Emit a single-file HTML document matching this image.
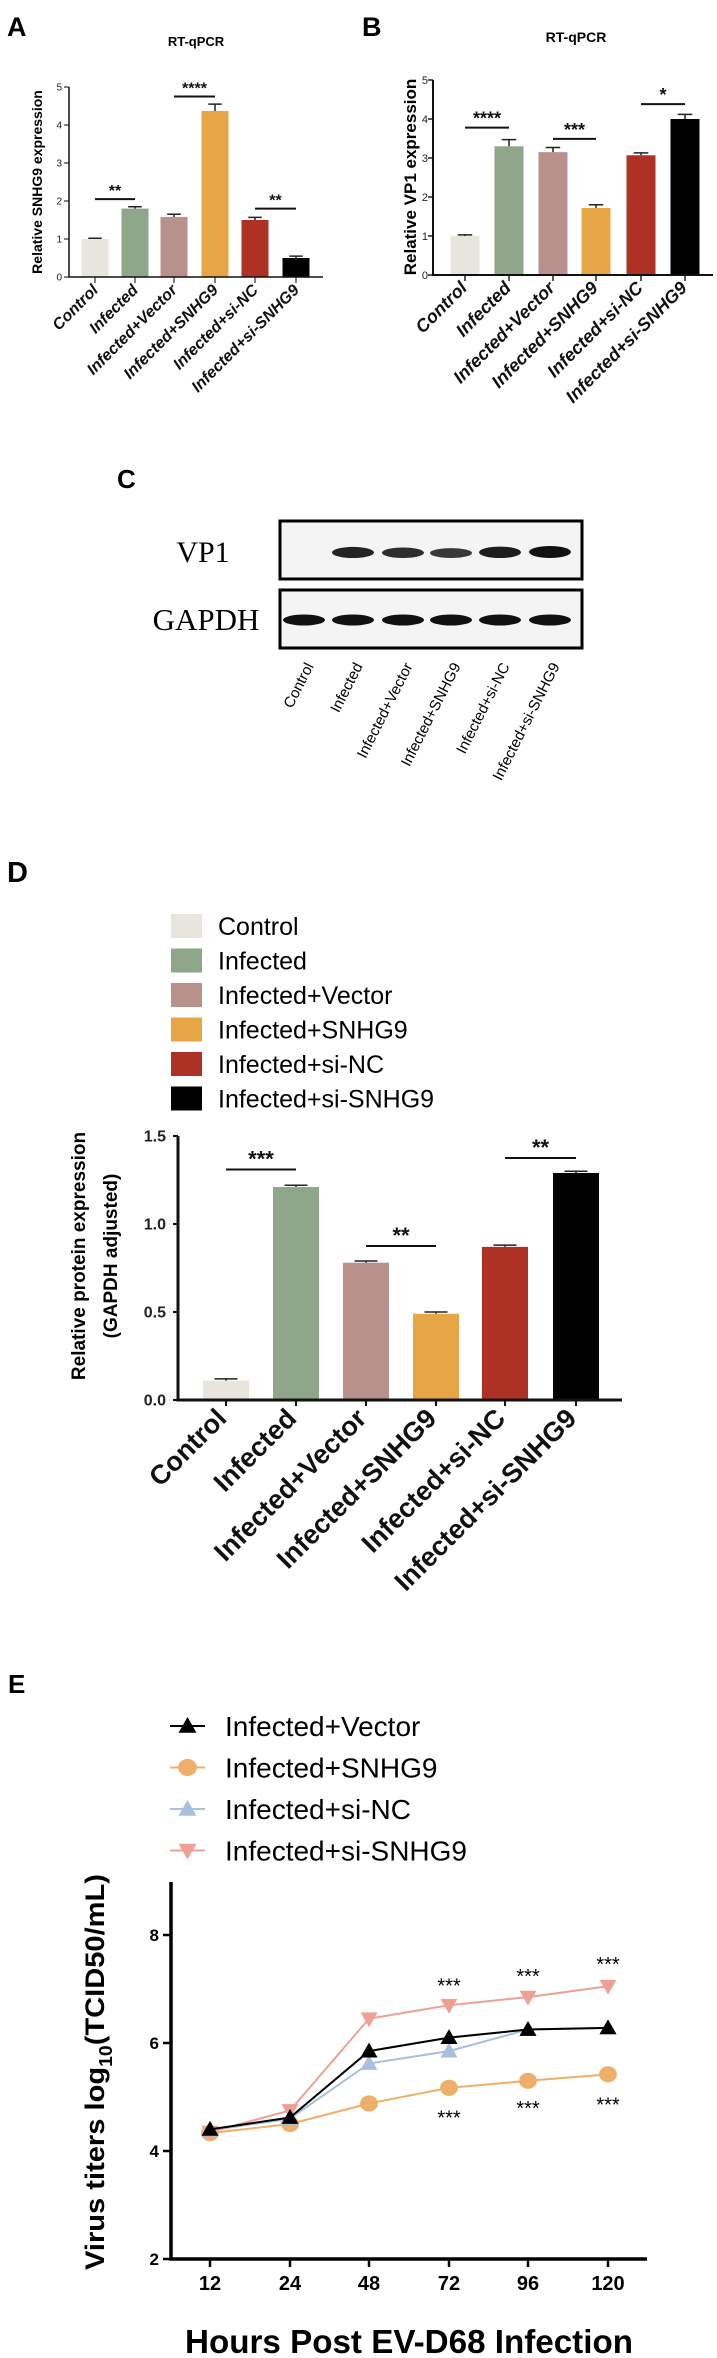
<!DOCTYPE html>
<html><head><meta charset="utf-8"><style>
html,body{margin:0;padding:0;background:#fff;}
svg{display:block;font-family:"Liberation Sans",Arial,sans-serif;}
</style></head><body>
<svg id="fig" width="717" height="2358" viewBox="0 0 717 2358" xmlns="http://www.w3.org/2000/svg">
<text x="7" y="36" font-size="27" font-weight="bold">A</text>
<text x="362" y="36" font-size="27" font-weight="bold">B</text>
<text x="117" y="488" font-size="26" font-weight="bold">C</text>
<text x="7" y="882" font-size="29" font-weight="bold">D</text>
<text x="8" y="1693" font-size="26" font-weight="bold">E</text>
<g id="gA"></g><g id="gB"></g><g id="gC"></g><g id="gD"></g><g id="gE"></g>
</svg>
<script>
const groups = ["Control","Infected","Infected+Vector","Infected+SNHG9","Infected+si-NC","Infected+si-SNHG9"];
const colors = ["#e8e5de","#8fa68a","#b8918c","#e6a646","#ad3124","#000000"];
const aValues = [1.0,1.8,1.58,4.37,1.5,0.5];
const aErr = [0.02,0.05,0.07,0.18,0.07,0.05];
const aTicks = [0,1,2,3,4,5];
const aSig = [[0,1,2.05,"**"],[2,3,4.75,"****"],[4,5,1.8,"**"]];
const bValues = [1.0,3.3,3.15,1.72,3.07,4.0];
const bErr = [0.03,0.17,0.12,0.08,0.06,0.12];
const bTicks = [0,1,2,3,4,5];
const bSig = [[0,1,3.78,"****"],[2,3,3.49,"***"],[4,5,4.38,"*"]];
const dValues = [0.11,1.21,0.78,0.49,0.87,1.29];
const dErr = [0.01,0.01,0.01,0.01,0.01,0.01];
const dTicks = [0,0.5,1.0,1.5];
const dTickLabels = ["0.0","0.5","1.0","1.5"];
const dSig = [[0,1,1.31,"***"],[2,3,0.875,"**"],[4,5,1.375,"**"]];
const eHours = ["12","24","48","72","96","120"];
const eSeriesNames = ["Infected+Vector","Infected+SNHG9","Infected+si-NC","Infected+si-SNHG9"];
const eVector = [4.4,4.62,5.85,6.1,6.25,6.28];
const eSNHG9 = [4.33,4.5,4.88,5.17,5.3,5.42];
const eSiNC = [4.38,4.6,5.62,5.85,6.25,6.28];
const eSiSNHG9 = [4.35,4.75,6.45,6.7,6.85,7.05];
const eTicks = [2,4,6,8];
const eSigTop = [[3,7.1],[4,7.28],[5,7.5]];
const eSigBottom = [[3,4.66],[4,4.83],[5,4.9]];
const lanes = [0,1,2,3,4,5];
const vp1Intensity = [0,0.85,0.75,0.65,0.9,1];

const NS="http://www.w3.org/2000/svg";
function mk(tag, attrs, parent, txt){const e=document.createElementNS(NS,tag);for(const k in attrs)e.setAttribute(k,attrs[k]);if(txt!==undefined)e.textContent=txt;parent.appendChild(e);return e;}

function barChart(g, cfg){
  const {x0,x1,yTop,yZero,vmax,ticks,tickLabels,xs,bw,vals,err,sig,tickFs,labFs,labItalic,labOff,sigFs,sigColor,axisW,tickLabX} = cfg;
  const ys = v => yZero - v/vmax*(yZero-yTop);
  vals.forEach((v,i)=>{
    const r=mk('rect',{x:xs[i]-bw/2,y:ys(v),width:bw,height:yZero-ys(v),fill:colors[i]},g);
    
    
    const e1=ys(v+err[i]);
    const l=mk('path',{d:`M${xs[i]} ${ys(v)}V${e1}M${xs[i]-bw/4} ${e1}H${xs[i]+bw/4}`,stroke:'#222','stroke-width':1.5,fill:'none'},g);
    
    
  });
  const ax=mk('path',{d:`M${x0} ${yTop}V${yZero}H${x1}`,stroke:'#111','stroke-width':axisW,fill:'none'},g);
  
  
  ticks.forEach((t,i)=>{
    mk('path',{d:`M${x0-5} ${ys(t)}H${x0}`,stroke:'#111','stroke-width':axisW*0.7},g);
    const tl=mk('text',{x:tickLabX,y:ys(t)+tickFs*0.35,'font-size':tickFs,'text-anchor':'end','font-weight':cfg.tickBold?'bold':'normal',fill:'#222'},g,tickLabels?tickLabels[i]:String(t));
    
    
  });
  xs.forEach((x,i)=>{
    mk('path',{d:`M${x} ${yZero}V${yZero+6}`,stroke:'#111','stroke-width':axisW*0.7},g);
    const lx=x+labOff[0], ly=yZero+labOff[1];
    const t=mk('text',{x:lx,y:ly,'font-size':labFs,'font-weight':'bold','font-style':labItalic?'italic':'normal','text-anchor':'end',transform:`rotate(-45 ${lx} ${ly})`,fill:'#111'},g,groups[i]);
    
    
  });
  sig.forEach(s=>{
    const y=ys(s[2]);
    const l=mk('path',{d:`M${xs[s[0]]} ${y}H${xs[s[1]]}`,stroke:'#111','stroke-width':2},g);
    
    
    const t=mk('text',{x:(xs[s[0]]+xs[s[1]])/2,y:y-3,'font-size':sigFs,'font-weight':'bold','text-anchor':'middle',fill:sigColor||'#111'},g,s[3]);
    
    
  });
}
// Panel A
const gA=document.getElementById('gA');
mk('text',{x:196,y:46,'font-size':13,'font-weight':'bold','text-anchor':'middle'},gA,'RT-qPCR');
barChart(gA,{x0:69,x1:323,yTop:87,yZero:277,vmax:5,ticks:aTicks,xs:[95,135,174,215,255,296],bw:27,vals:aValues,err:aErr,sig:aSig,tickFs:10,labFs:16,labItalic:true,labOff:[4,14],sigFs:16,axisW:1.5,tickLabX:62});
{const t=mk('text',{x:0,y:0,'font-size':14,'font-weight':'bold','text-anchor':'middle',transform:'translate(42 182) rotate(-90)'},gA,'Relative SNHG9 expression');}
// Panel B
const gB=document.getElementById('gB');
mk('text',{x:576,y:42,'font-size':14,'font-weight':'bold','text-anchor':'middle'},gB,'RT-qPCR');
barChart(gB,{x0:433,x1:713,yTop:80,yZero:275,vmax:5,ticks:bTicks,xs:[465,509,553,596,641,685],bw:29,vals:bValues,err:bErr,sig:bSig,tickFs:11,labFs:18,labItalic:true,labOff:[3,14],sigFs:18,axisW:2,tickLabX:428});
{const t=mk('text',{x:0,y:0,'font-size':17,'font-weight':'bold','text-anchor':'middle',transform:'translate(416 177) rotate(-90)'},gB,'Relative  VP1  expression');}
// Panel C
const gC=document.getElementById('gC');
const laneX=[304,353,403,451,500,550];
[[521,579,'VP1',552],[590,648,'GAPDH',620]].forEach((b,bi)=>{
  const r=mk('rect',{x:280,y:b[0],width:302,height:b[1]-b[0],fill:'#f4f4f4',stroke:'#000','stroke-width':3},gC);
  
  
  const t=mk('text',{x:bi==0?203:206,y:b[3]+10,'font-size':bi==0?30:31,'text-anchor':'middle','font-family':'"Liberation Serif",serif'},gC,b[2]);
  
  
  lanes.forEach(i=>{
    const inten = bi==0?vp1Intensity[i]:1;
    if(inten<=0)return;
    const e=mk('ellipse',{cx:laneX[i],cy:bi==0?555-inten*3:620,rx:21,ry:bi==0?3+inten*3:5.5,fill:'#111','fill-opacity':0.5+0.5*inten},gC);
    
    
  });
});
lanes.forEach(i=>{
  const lx=laneX[i]+10, ly=666;
  const t=mk('text',{x:lx,y:ly,'font-size':15,'text-anchor':'end',transform:`rotate(-63 ${lx} ${ly})`},gC,groups[i]);
  
  
});
// Panel D
const gD=document.getElementById('gD');
groups.forEach((gname,i)=>{
  const y=914+i*34.5;
  const r=mk('rect',{x:171,y:y,width:31,height:24,fill:colors[i]},gD);
  
  
  const t=mk('text',{x:218,y:y+21,'font-size':25},gD,gname);
  
  
});
barChart(gD,{x0:178,x1:622,yTop:1136,yZero:1400,vmax:1.5,ticks:dTicks,tickLabels:dTickLabels,tickBold:true,xs:[226,296,366,436,505,576],bw:46,vals:dValues,err:dErr,sig:dSig,tickFs:16,labFs:27,labItalic:false,labOff:[2,20],sigFs:22,axisW:3,tickLabX:166});
{const t=mk('text',{x:0,y:0,'font-size':19,'font-weight':'bold','text-anchor':'middle',transform:'translate(85 1256) rotate(-90)'},gD,'Relative protein expression');
const t2=mk('text',{x:0,y:0,'font-size':19,'font-weight':'bold','text-anchor':'middle',transform:'translate(117 1256) rotate(-90)'},gD,'(GAPDH adjusted)');}
// Panel E
const gE=document.getElementById('gE');
const eColors=['#000000','#eeaf6a','#a8c0dc','#eea096'];
const eMarkers=['up','circle','up','down'];
const eData=[eVector,eSNHG9,eSiNC,eSiSNHG9];
const ex0=171, ex1=647, eyBase=2259, eyPer=54;
const exPos=[210,290,369,449,528,608];
const eY=v=>eyBase-(v-2)*eyPer;
function marker(type,x,y,c,s){
  if(type=='circle')return mk('ellipse',{cx:x,cy:y,rx:s*1.05,ry:s*0.95,fill:c},gE);
  if(type=='up')return mk('path',{d:`M${x} ${y-s}L${x+s} ${y+s*0.75}H${x-s}Z`,fill:c},gE);
  return mk('path',{d:`M${x} ${y+s}L${x+s} ${y-s*0.75}H${x-s}Z`,fill:c},gE);
}
eSeriesNames.forEach((n,i)=>{
  const y=1726+i*41.5;
  const l=mk('path',{d:`M170 ${y}H205`,stroke:eColors[i],'stroke-width':2},gE);
  
  
  const m=marker(eMarkers[i],187.5,y,eColors[i],9);
  
  
  const t=mk('text',{x:225,y:y+10,'font-size':28},gE,n);
  
  
});
[1,2,3,0].forEach(si=>{
  const pts=eData[si].map((v,i)=>`${exPos[i]},${eY(v)}`).join(' ');
  const pl=mk('polyline',{points:pts,fill:'none',stroke:eColors[si],'stroke-width':2},gE);
  
  
  eData[si].forEach((v,i)=>{
    const m=marker(eMarkers[si],exPos[i],eY(v),eColors[si],8.5);
    
    
  });
});
{const ax=mk('path',{d:`M${ex0} 1882V${eyBase}H${ex1}`,stroke:'#000','stroke-width':3.5,fill:'none'},gE);}
eTicks.forEach(t=>{
  mk('path',{d:`M${ex0-8} ${eY(t)}H${ex0}`,stroke:'#000','stroke-width':2.5},gE);
  const tl=mk('text',{x:ex0-12,y:eY(t)+6,'font-size':17,'font-weight':'bold','text-anchor':'end'},gE,String(t));
  
  
});
eHours.forEach((h,i)=>{
  mk('path',{d:`M${exPos[i]} ${eyBase}V${eyBase+8}`,stroke:'#000','stroke-width':2.5},gE);
  const tl=mk('text',{x:exPos[i],y:2290,'font-size':20,'font-weight':'bold','text-anchor':'middle'},gE,h);
  
  
});
eSigTop.concat(eSigBottom).forEach(s=>{
  const t=mk('text',{x:exPos[s[0]],y:eY(s[1])+9,'font-size':20,'text-anchor':'middle'},gE,'***');
  
  
});
{const t=mk('text',{x:409,y:2353,'font-size':33,'font-weight':'bold','text-anchor':'middle',textLength:448,lengthAdjust:'spacingAndGlyphs'},gE,'Hours Post EV-D68 Infection');
const yt=mk('text',{x:0,y:0,'font-size':27,'font-weight':'bold','text-anchor':'middle',transform:'translate(104 2072) rotate(-90)',textLength:396,lengthAdjust:'spacingAndGlyphs'},gE);


mk('tspan',{},yt,'Virus titers log');mk('tspan',{'font-size':18,dy:8},yt,'10');mk('tspan',{dy:-8},yt,'(TCID50/mL)');}
</script>
</body></html>
